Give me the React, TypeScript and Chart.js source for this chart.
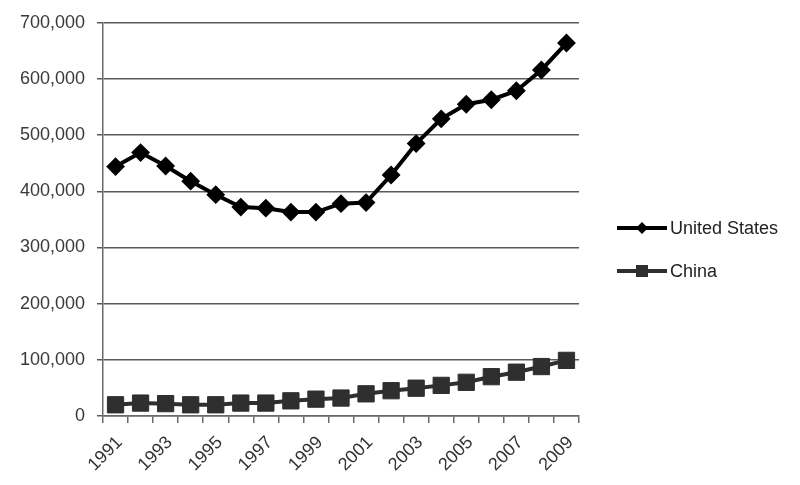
import React, { useEffect, useRef } from "react";
import { Chart, registerables } from "chart.js";

Chart.register(...registerables);

const years = [
  "1991", "1992", "1993", "1994", "1995", "1996", "1997", "1998", "1999", "2000",
  "2001", "2002", "2003", "2004", "2005", "2006", "2007", "2008", "2009",
];
const usValues = [
  444000, 469000, 445000, 418000, 394000, 372000, 370000, 363000, 363000, 378000,
  380000, 429000, 485000, 529000, 555000, 563000, 579000, 616000, 664000,
];
const chinaValues = [
  20000, 23000, 22000, 20000, 20000, 23000, 23000, 27000, 30000, 32000,
  39500, 45000, 49500, 54500, 60000, 70000, 78000, 88000, 99000,
];
const seriesNames = ["United States", "China"];
const yMax = 700000;
const yStep = 100000;

const FONT = "'Liberation Sans', Arial, sans-serif";

const lineLegend = {
  id: "lineLegend",
  afterDraw(chart: any) {
    const ctx = chart.ctx as CanvasRenderingContext2D;
    const rows = [228, 271];
    ctx.save();
    chart.data.datasets.forEach((ds: any, i: number) => {
      const y = rows[i];
      const x0 = 617;
      const x1 = 667;
      const cx = (x0 + x1) / 2;
      ctx.strokeStyle = ds.borderColor;
      ctx.lineWidth = 4;
      ctx.beginPath();
      ctx.moveTo(x0, y);
      ctx.lineTo(x1, y);
      ctx.stroke();
      ctx.fillStyle = ds.pointBackgroundColor;
      ctx.beginPath();
      if (ds.pointStyle === "rectRot") {
        const r = 6;
        ctx.moveTo(cx, y - r);
        ctx.lineTo(cx + r, y);
        ctx.lineTo(cx, y + r);
        ctx.lineTo(cx - r, y);
        ctx.closePath();
      } else {
        const h = 6;
        ctx.rect(cx - h, y - h, 2 * h, 2 * h);
      }
      ctx.fill();
      ctx.fillStyle = "#222";
      ctx.font = `18px ${FONT}`;
      ctx.textAlign = "left";
      ctx.textBaseline = "middle";
      ctx.fillText(ds.label, 670, y + 1);
    });
    ctx.restore();
  },
};

export default function App() {
  const ref = useRef<HTMLCanvasElement | null>(null);

  useEffect(() => {
    if (!ref.current) return;
    const chart = new Chart(ref.current, {
      type: "line",
      data: {
        labels: years,
        datasets: [
          {
            label: seriesNames[0],
            data: usValues,
            borderColor: "#000000",
            backgroundColor: "#000000",
            pointBackgroundColor: "#000000",
            pointBorderColor: "#000000",
            borderWidth: 4,
            pointStyle: "rectRot",
            pointRadius: 8,
            pointBorderWidth: 2,
            tension: 0,
          },
          {
            label: seriesNames[1],
            data: chinaValues,
            borderColor: "#2f2f2f",
            backgroundColor: "#2f2f2f",
            pointBackgroundColor: "#2f2f2f",
            pointBorderColor: "#2f2f2f",
            borderWidth: 4,
            pointStyle: "rect",
            pointRadius: 11.5,
            pointBorderWidth: 1,
            tension: 0,
          },
        ],
      },
      options: {
        responsive: false,
        animation: false,
        layout: { padding: { top: 22, right: 221, left: 0, bottom: 0 } },
        plugins: {
          legend: { display: false },
          tooltip: { enabled: false },
        },
        scales: {
          x: {
            offset: true,
            grid: {
              offset: true,
              drawOnChartArea: false,
              drawTicks: true,
              tickLength: 7,
              color: "#6a6a6a",
              lineWidth: 1.5,
            },
            border: { color: "#6a6a6a", width: 1.5 },
            ticks: {
              autoSkip: false,
              minRotation: 45,
              maxRotation: 45,
              padding: 9,
              labelOffset: 4,
              color: "#333",
              font: { family: FONT, size: 18 },
              callback: (_v: any, i: number) => (i % 2 === 0 ? years[i] : ""),
            },
            afterFit: (s: any) => {
              s.height = 69;
            },
          },
          y: {
            min: 0,
            max: yMax,
            grid: {
              color: "#5a5a5a",
              lineWidth: 1.5,
              drawTicks: true,
              tickLength: 6,
            },
            border: { color: "#6a6a6a", width: 1.5 },
            ticks: {
              stepSize: yStep,
              padding: 12,
              color: "#3a3a3a",
              font: { family: FONT, size: 18 },
              callback: (v: any) => Number(v).toLocaleString("en-US"),
            },
            afterFit: (s: any) => {
              s.width = 103;
            },
          },
        },
      },
      plugins: [lineLegend],
    });
    return () => chart.destroy();
  }, []);

  return (
    <div style={{ position: "absolute", left: 0, top: 0, width: 800, height: 485, background: "#fff" }}>
      <canvas ref={ref} width={800} height={485} />
    </div>
  );
}
